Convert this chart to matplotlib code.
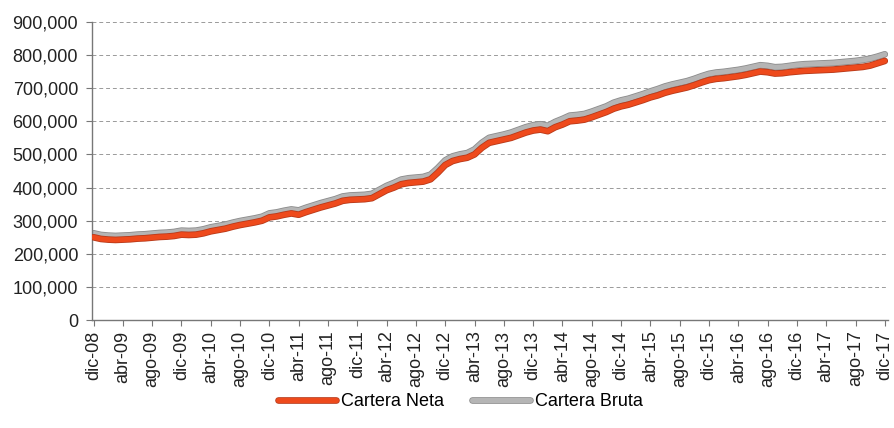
import numpy as np
import matplotlib
matplotlib.use("Agg")
import matplotlib.pyplot as plt
import matplotlib.patheffects as pe
from matplotlib.ticker import FuncFormatter

plt.rcParams["font.family"] = ["Liberation Sans", "DejaVu Sans"]

# monthly, dic-08 .. dic-17 (thousands)
neta = [250,
        245, 243, 242, 243, 244, 246, 247, 249, 251, 252, 254, 258,
        257, 258, 262, 268, 272, 276, 282, 287, 291, 295, 300, 310,
        313, 318, 322, 318, 326, 333, 340, 346, 352, 360, 363, 364,
        365, 368, 380, 392, 400, 410, 414, 416, 418, 425, 445, 468,
        480, 486, 490, 500, 520, 535, 540, 545, 550, 558, 566, 572,
        575, 570, 582, 590, 600, 602, 605, 612, 620, 628, 638, 645,
        650, 657, 664, 672, 678, 686, 692, 697, 702, 709, 717, 724,
        728, 730, 733, 736, 740, 745, 750, 748, 744, 745, 748, 750,
        752, 753, 754, 755, 756, 758, 760, 762, 764, 768, 775, 782]
bruta = [262,
         257, 255, 254, 255, 256, 258, 259, 261, 263, 264, 266, 270,
         269, 270, 274, 280, 284, 288, 294, 299, 303, 307, 312, 322,
         325, 330, 334, 331, 339, 346, 353, 359, 365, 373, 376, 377,
         378, 381, 393, 405, 414, 424, 428, 430, 432, 439, 459, 482,
         494, 500, 504, 515, 535, 550, 555, 560, 566, 574, 582, 588,
         591, 586, 598, 607, 617, 619, 622, 629, 637, 645, 656, 663,
         668, 675, 682, 690, 697, 705, 711, 716, 721, 728, 736, 743,
         747, 749, 752, 755, 759, 764, 769, 767, 763, 764, 767, 770,
         772, 773, 774, 775, 776, 778, 780, 782, 785, 789, 795, 802]

tick_labels = []
for yr in range(8, 18):
    for m in (["dic"] if yr == 8 else ["abr", "ago", "dic"]):
        tick_labels.append(f"{m}-{yr:02d}")

neta = np.array(neta) * 1000
bruta = np.array(bruta) * 1000
x = np.arange(len(neta))

fig = plt.figure(figsize=(8.94, 4.28), dpi=100)
ax = fig.add_axes([0.103, 0.252, 0.890, 0.697])

ax.plot(x, neta, color="#ee4a1c", lw=3.6, solid_capstyle="round",
        path_effects=[pe.Stroke(linewidth=4.8, foreground="#b83a1a"), pe.Normal()],
        label="Cartera Neta", zorder=3)
ax.plot(x, bruta, color="#b5b5b5", lw=3.6, solid_capstyle="round",
        path_effects=[pe.Stroke(linewidth=4.8, foreground="#8c8c8c"), pe.Normal()],
        label="Cartera Bruta", zorder=2)

ax.set_ylim(0, 900000)
ax.set_yticks(np.arange(0, 900001, 100000))
ax.yaxis.set_major_formatter(FuncFormatter(lambda v, p: f"{int(v):,}"))
ax.set_xlim(-0.2, 108.4)
ax.set_xticks(np.arange(0, 109, 4))
ax.set_xticklabels(tick_labels, rotation=90)

ax.grid(axis="y", color="#9a9a9a", linestyle=(0, (4, 3)), linewidth=0.7)
ax.set_axisbelow(True)
for s in ["top", "right"]:
    ax.spines[s].set_visible(False)
for s in ["left", "bottom"]:
    ax.spines[s].set_color("#777777")
    ax.spines[s].set_linewidth(1.0)
ax.tick_params(axis="both", colors="#777777", labelcolor="#222222",
               labelsize=13, length=4, direction="out")
ax.tick_params(axis="y", pad=6)

leg = fig.legend(loc="center", bbox_to_anchor=(0.515, 0.062), ncol=2,
                 frameon=False, fontsize=13, handlelength=3.2,
                 columnspacing=1.6, handletextpad=0.25)

fig.savefig("out.png", dpi=100)
